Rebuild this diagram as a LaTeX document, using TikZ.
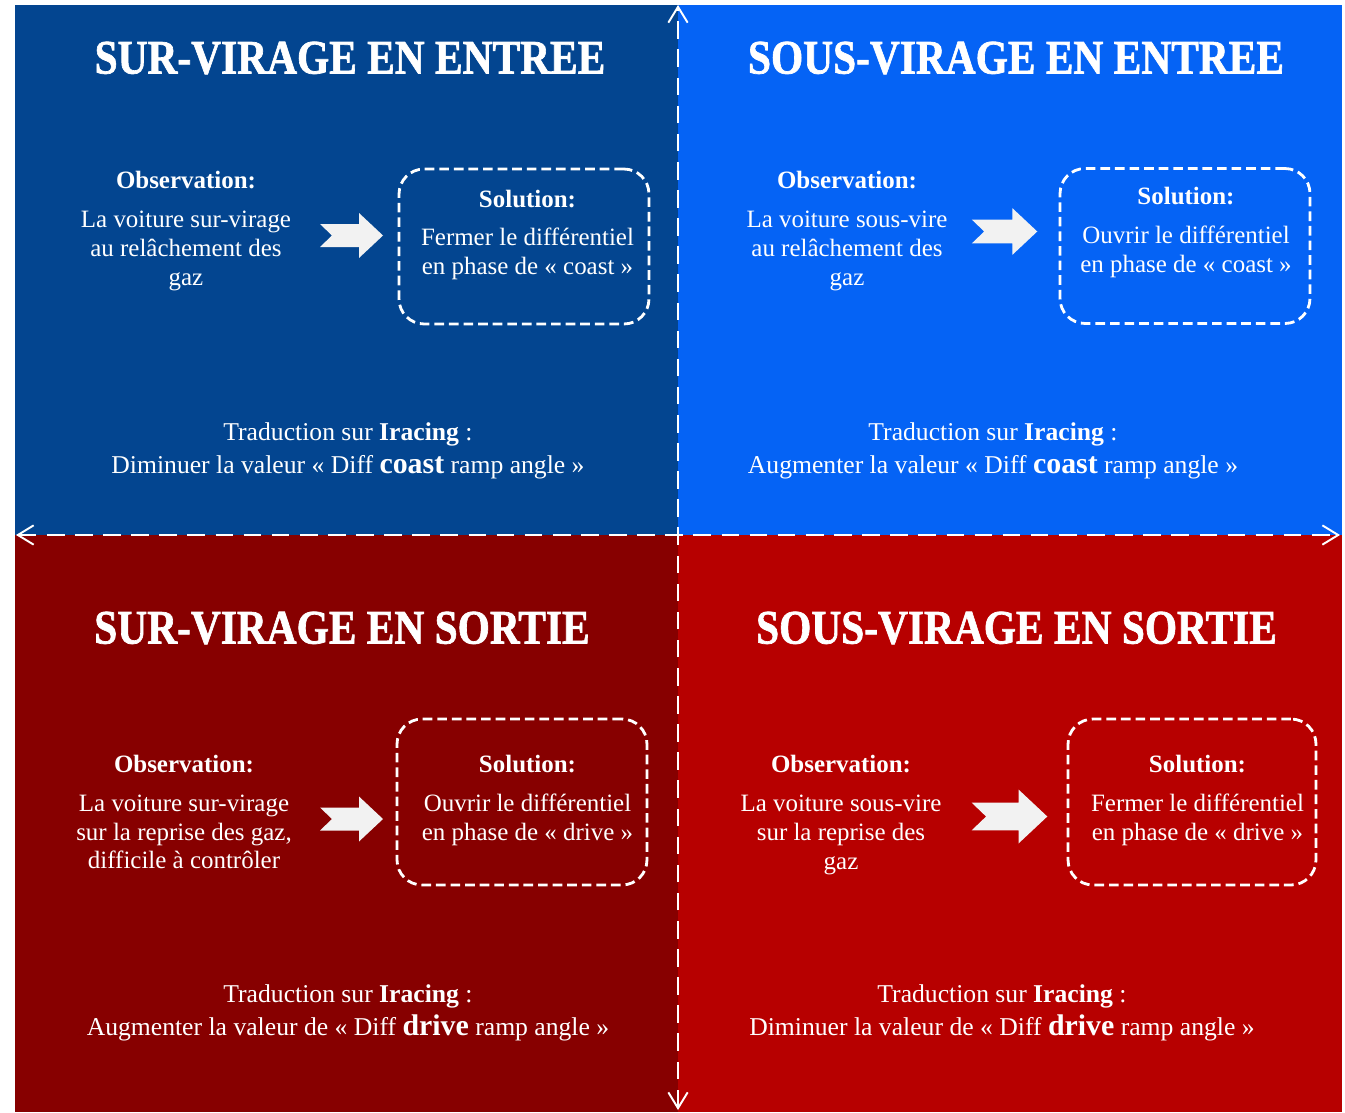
\documentclass[tikz,border=0pt]{standalone}
\usepackage{fontspec}
\setmainfont{Liberation Serif}
\newfontfamily\titlefont{Liberation Serif}[BoldFeatures={FakeBold=1.5}]
\usepackage{tikz}
\usetikzlibrary{arrows.meta}

\definecolor{darkblue}{RGB}{3,69,144}
\definecolor{brightblue}{RGB}{5,99,245}
\definecolor{darkred}{RGB}{135,0,0}
\definecolor{brightred}{RGB}{183,0,0}
\definecolor{arrowgray}{RGB}{242,242,242}

\tikzset{
  heading/.style={text=white, inner sep=0pt, font=\titlefont\bfseries\fontsize{27.4}{30}\selectfont},
  bodytext/.style={text=white, align=center, inner sep=0pt, font=\fontsize{14.2}{16.4}\selectfont},
  boldtext/.style={bodytext, font=\bfseries\fontsize{14.2}{16.4}\selectfont},
  tradtext/.style={bodytext, font=\fontsize{14.6}{18.7}\selectfont},
  solbox/.style={draw=white, line width=1.6pt, dash pattern=on 5.5pt off 2.8pt,
    rounded corners=0.5cm, minimum width=5cm, minimum height=3.1cm, inner sep=0pt},
  splitline/.style={white, line width=1.1pt, dash pattern=on 10pt off 6pt,
    {Straight Barb[length=9pt,width=11pt]}-{Straight Barb[length=9pt,width=11pt]}},
  blockarrow/.pic={
    \fill[arrowgray] (-31.5,-11.5) -- (7.5,-11.5) -- (7.5,-22.5) -- (31.5,0)
      -- (7.5,22.5) -- (7.5,11.5) -- (-31.5,11.5) -- (-19.5,0) -- cycle;
  }
}
\newcommand{\bigword}[1]{{\fontsize{17}{18}\selectfont\bfseries #1}}

\begin{document}
\begin{tikzpicture}[x=0.02cm, y=-0.02cm]
    \useasboundingbox (0,0) rectangle (1345,1112);

    % the four quadrants
    \fill[darkblue] (15,5) rectangle (678,535);
    \fill[brightblue] (678,5) rectangle (1342,535);
    \fill[darkred] (15,535) rectangle (678,1112);
    \fill[brightred] (678,535) rectangle (1342,1112);

    % top left
    \node[heading] (tl-title) at (350,58) {\scalebox{0.86}[1]{SUR-VIRAGE EN ENTREE}};
    \node[boldtext] (tl-obs) at (186,180) {Observation:};
    \node[bodytext] (tl-obstext) at (186,251) {La voiture sur-virage\\au relâchement des\\gaz};
    \pic at (351.5,235.5) {blockarrow};
    \node[solbox] (tl-box) at (524,246.5) {};
    \node[boldtext] (tl-sol) at (527.5,199) {Solution:};
    \node[bodytext] (tl-soltext) at (527.5,253.5) {Fermer le différentiel\\en phase de «~coast~»};
    \node[tradtext] (tl-trad) at (348,451) {Traduction sur \textbf{Iracing} :\\Diminuer la valeur «~Diff \bigword{coast} ramp angle~»};

    % top right
    \node[heading] (tr-title) at (1016,58) {\scalebox{0.86}[1]{SOUS-VIRAGE EN ENTREE}};
    \node[boldtext] (tr-obs) at (847,180) {Observation:};
    \node[bodytext] (tr-obstext) at (847,251) {La voiture sous-vire\\au relâchement des\\gaz};
    \pic[scale=1.04] at (1004.5,231.5) {blockarrow};
    \node[solbox] (tr-box) at (1185,246) {};
    \node[boldtext] (tr-sol) at (1186,196) {Solution:};
    \node[bodytext] (tr-soltext) at (1186,251.5) {Ouvrir le différentiel\\en phase de «~coast~»};
    \node[tradtext] (tr-trad) at (993,451) {Traduction sur \textbf{Iracing} :\\Augmenter la valeur «~Diff \bigword{coast} ramp angle~»};

    % bottom left
    \node[heading] (bl-title) at (342,628) {\scalebox{0.86}[1]{SUR-VIRAGE EN SORTIE}};
    \node[boldtext] (bl-obs) at (184,764) {Observation:};
    \node[bodytext] (bl-obstext) at (184,832) {La voiture sur-virage\\sur la reprise des gaz,\\difficile à contrôler};
    \pic at (351.5,819) {blockarrow};
    \node[solbox, minimum height=3.32cm] (bl-box) at (522,802) {};
    \node[boldtext] (bl-sol) at (527.5,764) {Solution:};
    \node[bodytext] (bl-soltext) at (527.5,819.5) {Ouvrir le différentiel\\en phase de «~drive~»};
    \node[tradtext] (bl-trad) at (348,1013) {Traduction sur \textbf{Iracing} :\\Augmenter la valeur de «~Diff \bigword{drive} ramp angle~»};

    % bottom right
    \node[heading] (br-title) at (1016.5,628) {\scalebox{0.86}[1]{SOUS-VIRAGE EN SORTIE}};
    \node[boldtext] (br-obs) at (841,764) {Observation:};
    \node[bodytext] (br-obstext) at (841,835) {La voiture sous-vire\\sur la reprise des\\gaz};
    \pic[scale=1.2] at (1009.5,816.5) {blockarrow};
    \node[solbox, minimum width=4.96cm, minimum height=3.32cm] (br-box) at (1192,802) {};
    \node[boldtext] (br-sol) at (1197.5,764) {Solution:};
    \node[bodytext] (br-soltext) at (1197.5,819.5) {Fermer le différentiel\\en phase de «~drive~»};
    \node[tradtext] (br-trad) at (1002,1013) {Traduction sur \textbf{Iracing} :\\Diminuer la valeur de «~Diff \bigword{drive} ramp angle~»};

    % dashed axes
    \coordinate (top) at (678,5);
    \coordinate (bottom) at (678,1110);
    \coordinate (left) at (16,535);
    \coordinate (right) at (1340,535);
    \draw[splitline] (bottom) -- (top);
    \draw[splitline] (left) -- (right);
\end{tikzpicture}
\end{document}
